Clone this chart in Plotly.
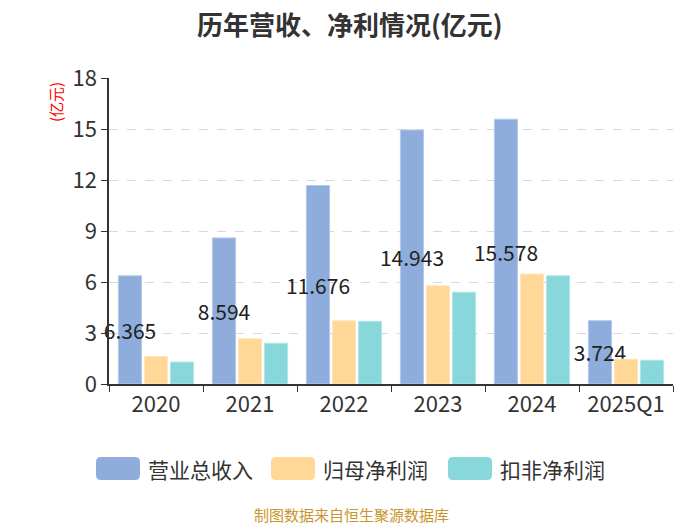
import plotly.graph_objects as go

categories = ["2020", "2021", "2022", "2023", "2024", "2025Q1"]
series_names = ["营业总收入", "归母净利润", "扣非净利润"]
revenue = [6.365, 8.594, 11.676, 14.943, 15.578, 3.724]
net_profit = [1.62, 2.66, 3.72, 5.78, 6.47, 1.46]
deducted_profit = [1.29, 2.40, 3.69, 5.40, 6.37, 1.40]
revenue_labels = ["6.365", "8.594", "11.676", "14.943", "15.578", "3.724"]
title_text = "历年营收、净利情况(亿元)"
colors = ["#8EADDC", "#FFD897", "#88D7DA"]
line_colors = ["#B5CAEA", "#FFE6BD", "#B3E6E8"]

FONT = "Noto Sans CJK SC, Noto Sans, sans-serif"
OFF = 8  # page body margin
PAGE_W, PAGE_H = 700, 525
W, H = PAGE_W - OFF, PAGE_H - OFF
# plot area in page pixels
PL, PR, PT, PB = 109, 673, 78, 384
PW, PH = PR - PL, PB - PT


def px(x):
    return (x - PL) / PW


def py(y):
    return (PB - y) / PH


fig = go.Figure()
vals = [revenue, net_profit, deducted_profit]
for i, (name, v) in enumerate(zip(series_names, vals)):
    kw = {}
    if i == 0:
        kw = dict(text=revenue_labels, textposition="inside", insidetextanchor="middle",
                  textangle=0, constraintext="none",
                  insidetextfont=dict(family=FONT, size=21, color="#222222"))
    fig.add_trace(go.Bar(x=categories, y=v, name=name, marker_color=colors[i],
                         marker_line=dict(color=line_colors[i], width=1),
                         showlegend=False, cliponaxis=False, **kw))

shapes = []
annotations = []
legend_x = [96, 271, 448]
r = 5
for i, name in enumerate(series_names):
    x0, x1 = legend_x[i], legend_x[i] + 44
    y0, y1 = 457, 480
    path = (f"M {px(x0 + r)},{py(y0)} L {px(x1 - r)},{py(y0)} Q {px(x1)},{py(y0)} {px(x1)},{py(y0 + r)} "
            f"L {px(x1)},{py(y1 - r)} Q {px(x1)},{py(y1)} {px(x1 - r)},{py(y1)} "
            f"L {px(x0 + r)},{py(y1)} Q {px(x0)},{py(y1)} {px(x0)},{py(y1 - r)} "
            f"L {px(x0)},{py(y0 + r)} Q {px(x0)},{py(y0)} {px(x0 + r)},{py(y0)} Z")
    shapes.append(dict(type="path", xref="paper", yref="paper", path=path,
                       fillcolor=colors[i], line=dict(width=0)))
    annotations.append(dict(xref="paper", yref="paper", x=px(x1 + 6), y=py(468.5),
                            xanchor="left", yanchor="middle", text=name, showarrow=False,
                            font=dict(family=FONT, size=21, color="#333333")))

annotations.append(dict(xref="paper", yref="paper", x=px(350), y=py(23.5), xanchor="center",
                        yanchor="middle", text=f"<b>{title_text}</b>", showarrow=False,
                        font=dict(family=FONT, size=26, color="#333333")))
annotations.append(dict(xref="paper", yref="paper", x=px(55), y=py(80), xanchor="center",
                        yanchor="top", text="(亿元)", textangle=-90, showarrow=False,
                        font=dict(family=FONT, size=15, color="#FF0000")))
annotations.append(dict(xref="paper", yref="paper", x=px(351), y=py(514), xanchor="center",
                        yanchor="middle", text="制图数据来自恒生聚源数据库", showarrow=False,
                        font=dict(family=FONT, size=15, color="#C9962E")))

fig.update_layout(
    width=W, height=H,
    margin=dict(l=PL - OFF, r=W - (PR - OFF), t=PT - OFF, b=H - (PB - OFF), autoexpand=False),
    paper_bgcolor="white", plot_bgcolor="white",
    barmode="group", bargap=0.17, bargroupgap=0.11,
    font=dict(family=FONT, color="#333333"),
    shapes=shapes, annotations=annotations,
    xaxis=dict(showline=True, linecolor="#333333", linewidth=1.5, ticks="outside",
               tickson="boundaries", ticklen=6, tickcolor="#333333",
               tickfont=dict(family=FONT, size=22, color="#333333"), showgrid=False),
    yaxis=dict(range=[0, 18], dtick=3, showline=True, linecolor="#333333", linewidth=1.5,
               ticks="outside", ticklen=6, tickcolor="#333333",
               tickfont=dict(family=FONT, size=22, color="#333333"),
               showgrid=True, gridcolor="#D9D9D9", griddash="dash", gridwidth=1,
               zeroline=False),
)

fig.write_html("out.html")
